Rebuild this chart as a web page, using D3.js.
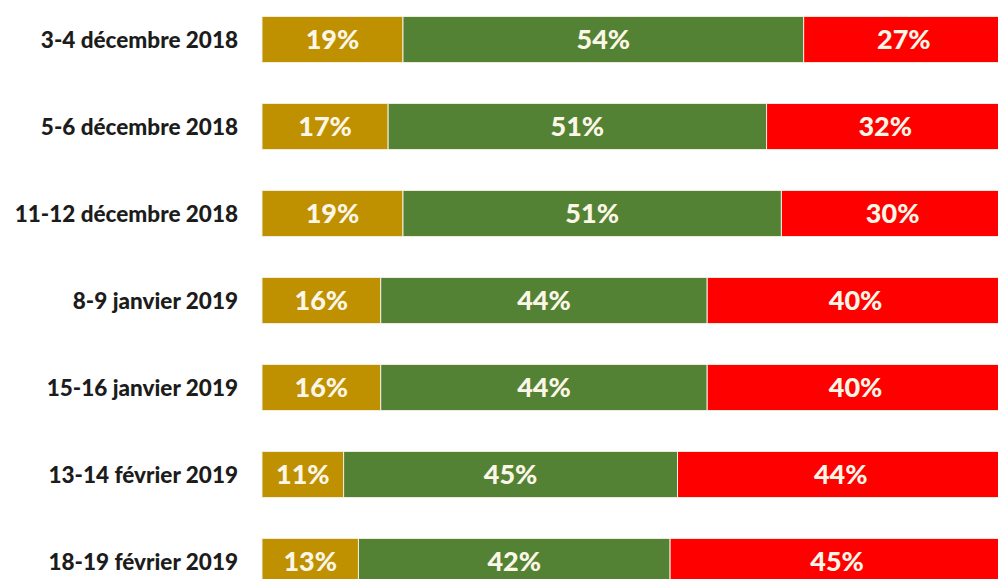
<!DOCTYPE html>
<html>
<head>
<meta charset="utf-8">
<script src="https://cdn.jsdelivr.net/npm/d3@7"></script>
<style>
  body { margin: 0; background: #fff; }
  svg { display: block; }
</style>
</head>
<body>
<div id="chart"></div>
<script>
const width = 998;
const height = 579;

// Data
const dates = [
    "3-4 décembre 2018",
    "5-6 décembre 2018",
    "11-12 décembre 2018",
    "8-9 janvier 2019",
    "15-16 janvier 2019",
    "13-14 février 2019",
    "18-19 février 2019"
];
const part1 = [19, 17, 19, 16, 16, 11, 13]; // gold
const part2 = [54, 51, 51, 44, 44, 45, 42]; // green
const part3 = [27, 32, 30, 40, 40, 44, 45]; // red
const seriesKeys = ["a", "b", "c"];
const colors = ["#bf9000", "#548235", "#ff0000"];

const rows = dates.map((d, i) => ({ date: d, a: part1[i], b: part2[i], c: part3[i] }));
const stacked = d3.stack().keys(seriesKeys)(rows);

const x = d3.scaleLinear()
    .domain([0, 100])
    .range([262, 1004]);

const y = d3.scaleBand()
    .domain(dates)
    .range([-4, 605])
    .paddingInner(0.47)
    .paddingOuter(0.235);

const svg = d3.select("#chart").append("svg")
    .attr("width", width)
    .attr("height", height);

const groups = svg.selectAll("g.series")
    .data(stacked)
    .enter()
    .append("g")
    .attr("class", "series")
    .attr("fill", (d, i) => colors[i]);

groups.selectAll("rect")
    .data(d => d)
    .enter()
    .append("rect")
    .attr("x", d => x(d[0]))
    .attr("y", d => y(d.data.date))
    .attr("width", d => x(d[1]) - x(d[0]))
    .attr("height", y.bandwidth())
    .attr("stroke", "#f3efe0")
    .attr("stroke-width", 1);

// percent labels
groups.selectAll("text")
    .data(d => d)
    .enter()
    .append("text")
    .attr("x", d => (x(d[0]) + x(d[1])) / 2)
    .attr("y", d => y(d.data.date) + y.bandwidth() / 2)
    .attr("dy", "0.36em")
    .attr("text-anchor", "middle")
    .style("font-family", "Lato, 'Open Sans', sans-serif")
    .style("font-weight", "900")
    .style("font-size", "27px")
    .attr("fill", "#fbf6e6")
    .text(d => (d[1] - d[0]) + "%");

// category labels
svg.append("g")
    .selectAll("text")
    .data(dates)
    .enter()
    .append("text")
    .attr("x", 238)
    .attr("y", d => y(d) + y.bandwidth() / 2)
    .attr("dy", "0.36em")
    .attr("text-anchor", "end")
    .style("font-family", "Lato, 'Open Sans', sans-serif")
    .style("font-weight", "900")
    .style("font-size", "22.5px")
    .attr("fill", "#1c1c1c")
    .text(d => d);
</script>
</body>
</html>
